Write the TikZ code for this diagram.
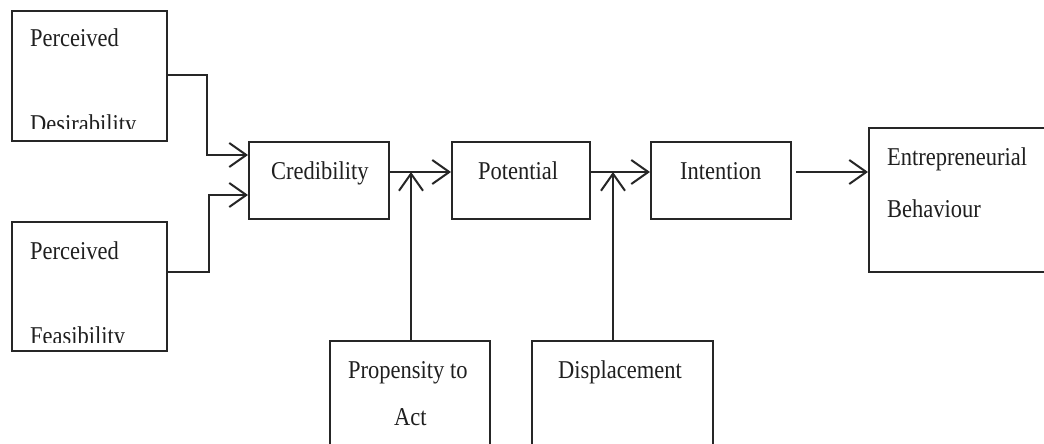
\documentclass[tikz,border=0pt]{standalone}
\usepackage{graphicx}
\usepackage{fontspec}
\setmainfont{Liberation Serif}
\usetikzlibrary{arrows.meta}
\newcommand{\vstretch}[1]{\scalebox{1}[1.14]{#1}}
\begin{document}
\begin{tikzpicture}[x=1pt,y=-1pt,
  box/.style={draw=black!85, line width=2pt, rectangle, inner sep=0pt},
  lbl/.style={inner sep=0pt, anchor=base west, font=\fontsize{22.5}{26}\selectfont, text=black!88},
  conn/.style={draw=black!85, line width=2pt, -{Straight Barb[length=17pt,width=24pt,line width=2pt]}},
  plain/.style={draw=black!85, line width=2pt}]
\useasboundingbox (0,0) rectangle (1044,444);
\fill[white] (0,0) rectangle (1044,444);
% boxes
\node[box, minimum width=155pt, minimum height=130pt] (pd) at (89.5,76) {};
\node[box, minimum width=155pt, minimum height=129pt] (pf) at (89.5,286.5) {};
\node[box, minimum width=140pt, minimum height=77pt] (cred) at (319,180.5) {};
\node[box, minimum width=138pt, minimum height=77pt] (pot) at (521,180.5) {};
\node[box, minimum width=140pt, minimum height=77pt] (int) at (721,180.5) {};
\node[box, minimum width=180pt, minimum height=144pt] (eb) at (959,200) {};
\node[box, minimum width=160pt, minimum height=110pt] (prop) at (410,396) {};
\node[box, minimum width=181pt, minimum height=110pt] (disp) at (622.5,396) {};
% texts
\node[lbl] (pdt1) at (30,47) {\vstretch{Perceived}};
\begin{scope}
\clip (12,11) rectangle (167,128);
\node[lbl] (pdt2) at (30,132) {\vstretch{Desirability}};
\end{scope}
\node[lbl] (pft1) at (30,259) {\vstretch{Perceived}};
\begin{scope}
\clip (12,222) rectangle (167,342);
\node[lbl] (pft2) at (30,344) {\vstretch{Feasibility}};
\end{scope}
\node[lbl] (credt) at (271,179) {\vstretch{Credibility}};
\node[lbl] (pott) at (478,179) {\vstretch{Potential}};
\node[lbl] (intt) at (680,179) {\vstretch{Intention}};
\node[lbl] (ebt1) at (887,165) {\vstretch{Entrepreneurial}};
\node[lbl] (ebt2) at (887,217) {\vstretch{Behaviour}};
\node[lbl] (propt1) at (348,378) {\vstretch{Propensity to}};
\node[lbl] (propt2) at (394,425) {\vstretch{Act}};
\node[lbl] (dispt) at (558,378) {\vstretch{Displacement}};
% connectors
\coordinate (j1) at (cred.east |- 0,172);
\coordinate (j2) at (pot.east |- 0,172);
\draw[conn] (pd.east |- 0,75) -| (207,155) -- (cred.west |- 0,155);
\draw[conn] (pf.east |- 0,272) -| (209,195) -- (cred.west |- 0,195);
\draw[conn] (j1) -- (pot.west |- 0,172);
\draw[conn] (prop.north -| 411,0) -- (411,172);
\draw[conn] (j2) -- (int.west |- 0,172);
\draw[conn] (disp.north -| 613,0) -- (613,172);
\draw[conn] ([xshift=4pt]int.east |- 0,172) -- (eb.west |- 0,172);
\end{tikzpicture}
\end{document}
